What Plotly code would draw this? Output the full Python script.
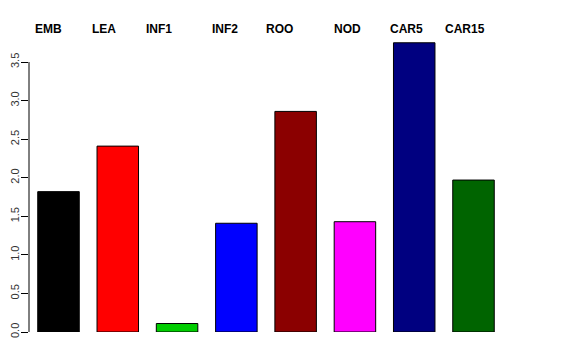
import plotly.graph_objects as go

categories = ["EMB", "LEA", "INF1", "INF2", "ROO", "NOD", "CAR5", "CAR15"]
values = [1.82, 2.41, 0.11, 1.41, 2.86, 1.43, 3.75, 1.97]
colors = ["#000000", "#FF0000", "#00CD00", "#0000FF", "#8B0000", "#FF00FF", "#000080", "#006400"]
y_ticks = [0.0, 0.5, 1.0, 1.5, 2.0, 2.5, 3.0, 3.5]
y_tick_labels = ["0.0", "0.5", "1.0", "1.5", "2.0", "2.5", "3.0", "3.5"]

# label placement (layout, not data): offsets of the top labels from bar centres, in bar units
label_offsets = [-0.177, -0.233, -0.305, -0.192, -0.273, -0.126, -0.131, -0.147]

xs = list(range(len(categories)))

# the page body adds an 8px offset, so margins are compensated
W, H = 576, 360
OFF = 8
ML, MR, MT, MB = 29 - OFF, 73 + OFF, 42 - OFF, 28 + OFF
plot_h = H - MT - MB
label_px_y = 29 - OFF

fig = go.Figure()
fig.add_trace(go.Bar(
    x=xs, y=values,
    marker=dict(color=colors, line=dict(color="#000000", width=1)),
    showlegend=False, hoverinfo="skip",
))

for i, (cat, off) in enumerate(zip(categories, label_offsets)):
    fig.add_annotation(
        x=i + off, xref="x", y=(H - MB - label_px_y) / plot_h, yref="paper", yanchor="middle",
        text="<b>" + cat + "</b>", showarrow=False,
        font=dict(family="Liberation Sans, Arial, sans-serif", size=12, color="#000000"),
    )

fig.update_layout(
    width=W, height=H,
    margin=dict(l=ML, r=MR, t=MT, b=MB, autoexpand=False),
    plot_bgcolor="white", paper_bgcolor="white",
    bargap=0.30,
    xaxis=dict(range=[-0.4975, 7.4975], showticklabels=False, showgrid=False,
               zeroline=False, showline=False, ticks="", automargin=False),
    yaxis=dict(range=[0, 3.76], tickvals=y_ticks, ticktext=y_tick_labels,
               tickangle=-90, ticks="outside", ticklen=7, tickcolor="#000000",
               ticklabelstandoff=-2,
               showgrid=False, zeroline=False, showline=False, automargin=False,
               tickfont=dict(family="Liberation Sans, Arial, sans-serif", size=11, color="#333333")),
    font=dict(family="Liberation Sans, Arial, sans-serif"),
)

fig.add_shape(type="line", xref="paper", yref="y", x0=0, x1=0, y0=0, y1=3.5,
              line=dict(color="#000000", width=1))

fig.write_html("out.html")
